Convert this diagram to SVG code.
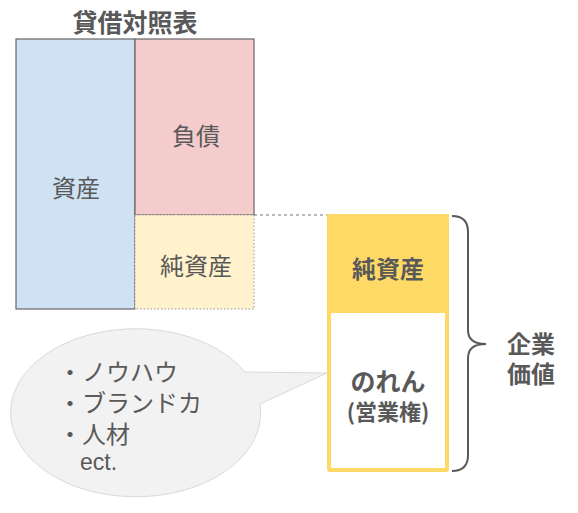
<svg xmlns="http://www.w3.org/2000/svg" width="578" height="513" viewBox="0 0 578 513">
<style>
text{font-family:"Noto Sans CJK JP","Liberation Sans",sans-serif;fill:#595959;text-anchor:middle;dominant-baseline:central}
.b{font-weight:bold}
.l{text-anchor:start}
</style>
<rect width="578" height="513" fill="#fff"/>
<g id="title"><text class="b" x="135" y="21" font-size="25">貸借対照表</text></g>
<g id="assets"><rect x="16" y="39" width="119" height="270" fill="#cfe2f3" stroke="#666" stroke-width="1.2"/><text x="76" y="186" font-size="24">資産</text></g>
<g id="liabilities"><rect x="135" y="39" width="119" height="176" fill="#f4cccc" stroke="#666" stroke-width="1.2"/><text x="196" y="134" font-size="24">負債</text></g>
<g id="netassets"><rect x="135" y="215" width="119" height="94" fill="#fff2cc" stroke="#999" stroke-width="1" stroke-dasharray="1.5 2"/><text x="196" y="264" font-size="24">純資産</text></g>
<g id="connectors"><line x1="254" y1="215" x2="328" y2="215" stroke="#777" stroke-width="1" stroke-dasharray="3 3"/></g>
<g id="bubble">
<path d="M245 372 A125 84 0 1 0 260 404 L327 373 Z" fill="#f2f2f2" stroke="#d9d9d9" stroke-width="1"/>
<text class="l" x="58" y="370" font-size="24">・ノウハウ</text>
<text class="l" x="58" y="401" font-size="24">・ブランドカ</text>
<text class="l" x="58" y="432" font-size="24">・人材</text>
<text class="l" x="80" y="462" font-size="23" style="font-family:'Liberation Sans',sans-serif">ect.</text>
</g>
<g id="value">
<rect x="329" y="216" width="118" height="254" fill="#fff" stroke="#ffd966" stroke-width="4" rx="1"/>
<rect x="327" y="214" width="122" height="99" fill="#ffd966"/>
<text class="b" x="388" y="267" font-size="24">純資産</text>
<text class="b" x="388" y="380" font-size="25">のれん</text>
<text class="b" x="388" y="410" font-size="22">(営業権)</text>
</g>
<g id="brace">
<path d="M452 216 Q468 216 468 232 L468 330 Q468 344 486 344 Q468 344 468 358 L468 455 Q468 471 452 471" fill="none" stroke="#595959" stroke-width="2"/>
<text class="b" x="531" y="342" font-size="24">企業</text>
<text class="b" x="531" y="372" font-size="24">価値</text>
</g>
</svg>
